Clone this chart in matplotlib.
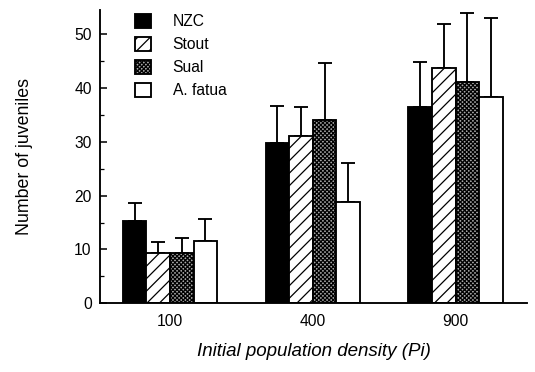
import matplotlib
matplotlib.use("Agg")
import matplotlib.pyplot as plt
import numpy as np

plt.rcParams["font.family"] = ["Liberation Sans", "DejaVu Sans"]
plt.rcParams["hatch.linewidth"] = 1.2

densities = ["100", "400", "900"]
cultivars = ["NZC", "Stout", "Sual", "A. fatua"]
# mean number of juveniles per cultivar, one value per density
nzc = [15.2, 29.7, 36.4]
stout = [9.3, 31.1, 43.8]
sual = [9.3, 34.0, 41.1]
fatua = [11.5, 18.8, 38.3]
# upper end of the error bars
nzc_top = [18.6, 36.7, 44.9]
stout_top = [11.3, 36.4, 51.9]
sual_top = [12.1, 44.7, 54.0]
fatua_top = [15.6, 26.0, 53.0]

means = [nzc, stout, sual, fatua]
tops = [nzc_top, stout_top, sual_top, fatua_top]
faces = ["black", "white", "#a8a8a8", "white"]
hatches = [None, "//", "xxxxxx", None]

# dpi 75 so that the hatch gets about the same spacing as the scan
fig = plt.figure(figsize=(535 / 75, 372 / 75), dpi=75)
ax = fig.add_axes([0.187, 0.185, 0.798, 0.788])

x = np.arange(len(densities))
w = 0.165
for i in range(4):
    pos = x + (i - 1.5) * w
    m = np.array(means[i])
    up = np.array(tops[i]) - m
    ax.bar(pos, m, w, color=faces[i], edgecolor="black", linewidth=1.8,
           hatch=hatches[i], label=cultivars[i], zorder=2)
    ax.errorbar(pos, m, yerr=[np.zeros_like(m), up], fmt="none",
                ecolor="black", elinewidth=1.8, capsize=7, capthick=1.8, zorder=1)

ax.set_xlim(-0.49, 2.5)
ax.set_ylim(0, 54.5)
ax.set_xticks(x)
ax.set_xticklabels(densities)
ax.set_yticks(np.arange(0, 51, 10))
ax.set_yticks(np.arange(5, 55, 10), minor=True)
ax.tick_params(axis="y", direction="in", length=7, width=1.5, labelsize=15, pad=8)
ax.tick_params(axis="y", which="minor", direction="in", length=4, width=1.2)
ax.tick_params(axis="x", length=0, labelsize=15, pad=10)

for s in ["top", "right"]:
    ax.spines[s].set_visible(False)
ax.spines["left"].set_linewidth(1.8)
ax.spines["bottom"].set_linewidth(1.8)

ax.set_ylabel("Number of juveniles", fontsize=17, labelpad=40)
ax.set_xlabel("Initial population density (Pi)", fontsize=18, style="italic", labelpad=14)

leg = ax.legend(loc="upper left", bbox_to_anchor=(0.06, 1.02), frameon=False,
                fontsize=15, handlelength=1.0, handleheight=1.0,
                handletextpad=1.4, labelspacing=0.5, borderaxespad=0.2)

fig.savefig("out.png", dpi=75)
